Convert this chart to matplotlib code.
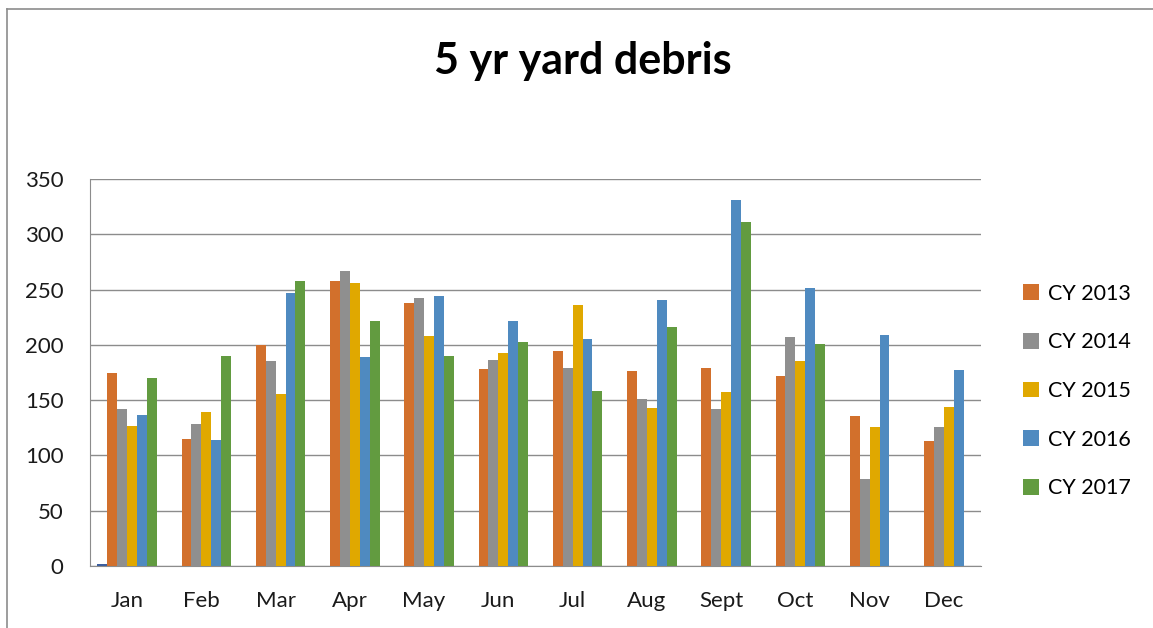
import matplotlib
matplotlib.use("Agg")
import matplotlib.pyplot as plt
import numpy as np
from matplotlib.patches import Patch
from matplotlib.lines import Line2D

plt.rcParams['font.family'] = ['Lato', 'DejaVu Sans']

months = ["Jan", "Feb", "Mar", "Apr", "May", "Jun", "Jul", "Aug", "Sept", "Oct", "Nov", "Dec"]
series_names = ["CY 2013", "CY 2014", "CY 2015", "CY 2016", "CY 2017"]

# unlabeled extra series (only tiny Jan value visible)
cy_extra = [1.5, np.nan, np.nan, np.nan, np.nan, np.nan, np.nan, np.nan, np.nan, np.nan, np.nan, np.nan]
cy2013 = [175, 115, 200, 258, 238, 178, 194, 176, 179, 172, 136, 113]
cy2014 = [142, 128, 185, 267, 242, 186, 179, 151, 142, 207, 79, 126]
cy2015 = [127, 139, 156, 256, 208, 193, 236, 143, 157, 185, 126, 144]
cy2016 = [137, 114, 247, 189, 244, 222, 205, 241, 331, 251, 209, 177]
cy2017 = [170, 190, 258, 222, 190, 203, 158, 216, 311, 201, np.nan, np.nan]

colors = ["#D2702C", "#8F8F8F", "#E0A800", "#4F8AC0", "#629B40"]
extra_color = "#3C5E9E"

fig = plt.figure(figsize=(11.53, 6.28), dpi=100)
ax = fig.add_axes([90/1153, 1-566/628, (981-90)/1153, (566-179)/628])

x = np.arange(len(months))
w = 1/7.5
all_series = [cy_extra, cy2013, cy2014, cy2015, cy2016, cy2017]
all_colors = [extra_color] + colors
for i, (vals, c) in enumerate(zip(all_series, all_colors)):
    ax.bar(x + (i - 2.5) * w, vals, width=w, color=c, linewidth=0, zorder=3)

ax.set_xlim(-0.5, len(months) - 0.5)
ax.set_ylim(0, 350)
ax.set_yticks(np.arange(0, 351, 50))
ax.set_xticks(x)
ax.set_xticklabels(months)
ax.grid(axis='y', color='#8C8C8C', linewidth=1.0, zorder=0)
ax.set_axisbelow(True)
for s in ['top', 'right']:
    ax.spines[s].set_visible(False)
ax.spines['left'].set_color('#8C8C8C')
ax.spines['bottom'].set_color('#8C8C8C')
ax.tick_params(axis='both', length=0, labelsize=16, colors='#1a1a1a')
ax.tick_params(axis='y', pad=19)
ax.tick_params(axis='x', pad=18)

fig.text(583/1153, 1-61/628, "5 yr yard debris", ha='center', va='center',
         fontsize=31, fontweight='bold', color='black')

handles = [Patch(facecolor=c, edgecolor='none') for c in colors]
fig.legend(handles, series_names, loc='center left', bbox_to_anchor=(1014/1153, 1-391/628),
           frameon=False, fontsize=15.5, labelspacing=1.33, handlelength=0.75, handleheight=0.75,
           handletextpad=0.45, borderaxespad=0)

# chart border (top and left visible)
fig.add_artist(Line2D([7/1153, 1], [1-8.5/628, 1-8.5/628], transform=fig.transFigure,
                      color='#8C8C8C', linewidth=1.2))
fig.add_artist(Line2D([7/1153, 7/1153], [0, 1-8.5/628], transform=fig.transFigure,
                      color='#8C8C8C', linewidth=1.2))

fig.savefig("out.png", dpi=100, facecolor='white')
